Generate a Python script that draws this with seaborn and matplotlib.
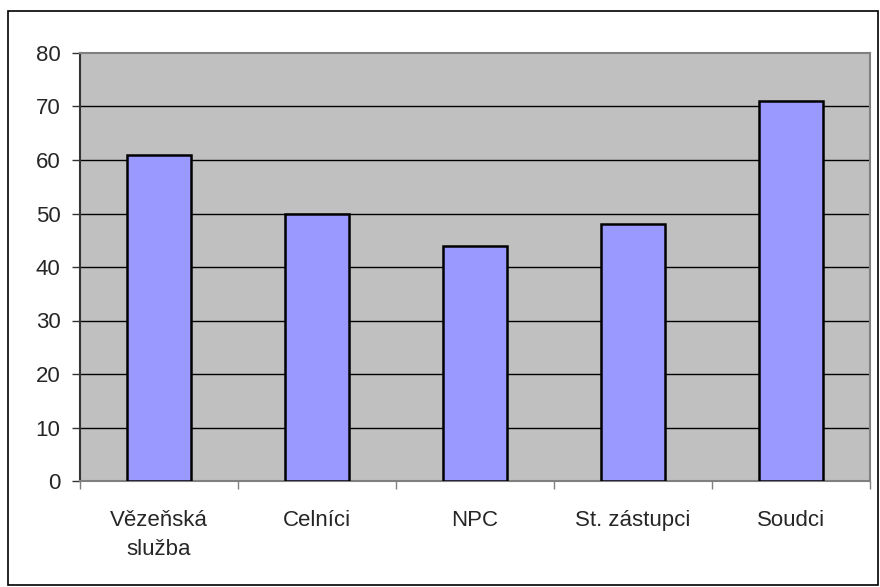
import pandas as pd
import seaborn as sns
import matplotlib.pyplot as plt
from matplotlib.patches import Rectangle
from matplotlib.ticker import FixedLocator

# data
categories = ["Vězeňská\nslužba", "Celníci", "NPC", "St. zástupci", "Soudci"]
values = [61, 50, 44, 48, 71]

df = pd.DataFrame({"skupina": categories, "hodnota": values})

sns.set_style("white")
plt.rcParams['font.family'] = ['Liberation Sans', 'DejaVu Sans']

fig = plt.figure(figsize=(8.8, 5.87), dpi=100)
W, H = 880, 587
ax = fig.add_axes([80 / W, 1 - 481 / H, 790 / W, 428 / H])
ax.set_facecolor("#C0C0C0")

sns.barplot(data=df, x="skupina", y="hodnota", color="#9999FF", saturation=1,
            width=0.405, edgecolor="black", linewidth=1.8, ax=ax, zorder=3)

ax.set_ylim(0, 80)
ax.set_xlim(-0.5, 4.5)
ax.set_yticks(range(0, 81, 10))
for y in range(10, 80, 10):
    ax.axhline(y, color="black", linewidth=1, zorder=1)

ax.set_xlabel("")
ax.set_ylabel("")
ax.tick_params(axis="y", labelsize=16, length=6, width=1, color="#333333",
               direction="out", left=True, pad=8)
# x ticks sit between the categories
ax.xaxis.set_major_locator(FixedLocator(range(5)))
ax.tick_params(axis="x", which="major", length=0, labelsize=16, pad=21)
for lbl in ax.get_xticklabels():
    lbl.set_linespacing(1.5)
ax.xaxis.set_minor_locator(FixedLocator([i - 0.5 for i in range(6)]))
ax.tick_params(axis="x", which="minor", length=6, width=1, color="#808080",
               direction="out", bottom=True)

for side in ["top", "right", "bottom"]:
    ax.spines[side].set_color("#808080")
    ax.spines[side].set_linewidth(1.5)
ax.spines["left"].set_color("#333333")
ax.spines["left"].set_linewidth(1.5)

# outer chart border
fig.patches.append(Rectangle((8 / W, 2 / H), 870 / W, 574 / H, transform=fig.transFigure,
                             fill=False, edgecolor="black", linewidth=1.2))

fig.savefig("out.png", dpi=100)
